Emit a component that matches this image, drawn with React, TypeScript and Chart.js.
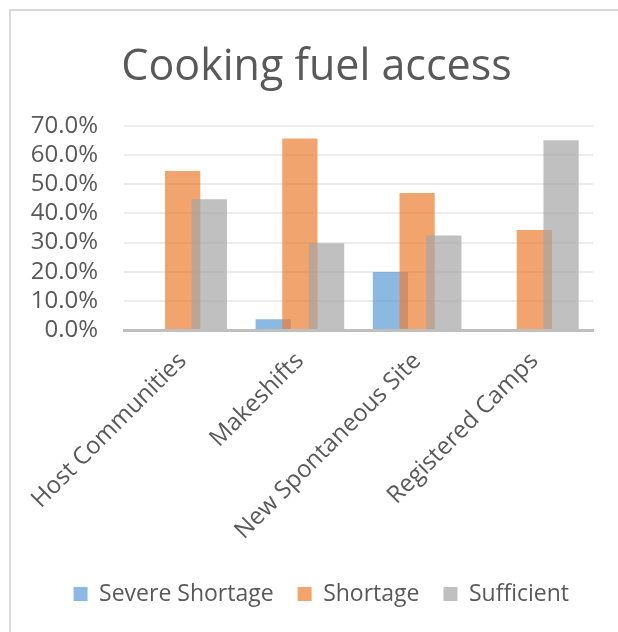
import { useEffect, useRef } from 'react';
import { Chart, registerables } from 'chart.js';

Chart.register(...registerables);

const TITLE = 'Cooking fuel access';
const categories = ['Host Communities', 'Makeshifts', 'New Spontaneous Site', 'Registered Camps'];
const seriesNames = ['Severe Shortage', 'Shortage', 'Sufficient'];
const severeShortage = [0, 3.7, 19.9, 0];
const shortage = [54.6, 65.7, 47.0, 34.3];
const sufficient = [44.9, 29.8, 32.4, 65.1];
const yMin = 0;
const yMax = 70;
const yStep = 10;

const FONT = '"Open Sans", "Noto Sans", sans-serif';
const TEXT = '#595959';

const frameAndTitle = {
  id: 'frameAndTitle',
  beforeDraw(chart: any) {
    const ctx = chart.ctx;
    ctx.save();
    ctx.fillStyle = '#ffffff';
    ctx.fillRect(0, 0, chart.width, chart.height);
    ctx.strokeStyle = '#d9d9d9';
    ctx.lineWidth = 2;
    ctx.beginPath();
    ctx.moveTo(10, chart.height);
    ctx.lineTo(10, 10);
    ctx.lineTo(chart.width, 10);
    ctx.stroke();
    ctx.fillStyle = TEXT;
    ctx.font = `43px ${FONT}`;
    ctx.textAlign = 'center';
    ctx.textBaseline = 'alphabetic';
    ctx.fillText(TITLE, 316.5, 80);
    ctx.restore();
  },
};

// draw datasets in index order so later series overlap earlier ones (as in Excel)
const drawOrder = {
  id: 'drawOrder',
  beforeDatasetsDraw(chart: any) {
    const metas = chart.getSortedVisibleDatasetMetas();
    for (const meta of metas) meta.controller.draw();
    return false;
  },
};

export default function App() {
  const ref = useRef<HTMLCanvasElement | null>(null);
  useEffect(() => {
    if (!ref.current) return;
    const colors = ['rgba(91,155,213,0.7)', 'rgba(237,125,49,0.7)', 'rgba(165,165,165,0.7)'];
    const values = [severeShortage, shortage, sufficient];
    const chart = new Chart(ref.current, {
      type: 'bar',
      data: {
        labels: categories,
        datasets: seriesNames.map((name, i) => ({
          label: name,
          data: values[i],
          backgroundColor: colors[i],
          borderWidth: 0,
          barPercentage: 1.32,
          categoryPercentage: 0.683,
        })),
      },
      options: {
        responsive: false,
        animation: false,
        devicePixelRatio: 1,
        layout: { padding: { top: 126, left: 0, right: 25, bottom: 16.5 } },
        plugins: {
          title: { display: false },
          tooltip: { enabled: false },
          legend: {
            position: 'bottom',
            align: 'end',
            labels: {
              boxWidth: 14,
              boxHeight: 14,
              padding: 24,
              color: TEXT,
              font: { family: FONT, size: 23 },
            },
          },
        },
        scales: {
          x: {
            grid: { display: false, drawTicks: false },
            border: { display: true, color: '#bfbfbf', width: 3 },
            ticks: {
              autoSkip: false,
              maxRotation: 45,
              minRotation: 45,
              padding: 17,
              color: TEXT,
              font: { family: FONT, size: 24 },
            },
            afterFit(scale: any) {
              scale.height = 228.5;
            },
          },
          y: {
            min: yMin,
            max: yMax,
            grid: { color: '#ececec', lineWidth: 2, drawTicks: false },
            border: { display: false },
            ticks: {
              stepSize: yStep,
              autoSkip: false,
              padding: 26,
              color: TEXT,
              font: { family: FONT, size: 24 },
              callback: (v: any) => Number(v).toFixed(1) + '%',
            },
            afterFit(scale: any) {
              scale.width = 124;
            },
          },
        },
      },
      plugins: [frameAndTitle, drawOrder],
    });
    return () => chart.destroy();
  }, []);
  return (
    <div style={{ position: 'fixed', left: 0, top: 0, width: 618, height: 632, background: '#fff' }}>
      <canvas ref={ref} width={618} height={632} style={{ display: 'block' }} />
    </div>
  );
}
